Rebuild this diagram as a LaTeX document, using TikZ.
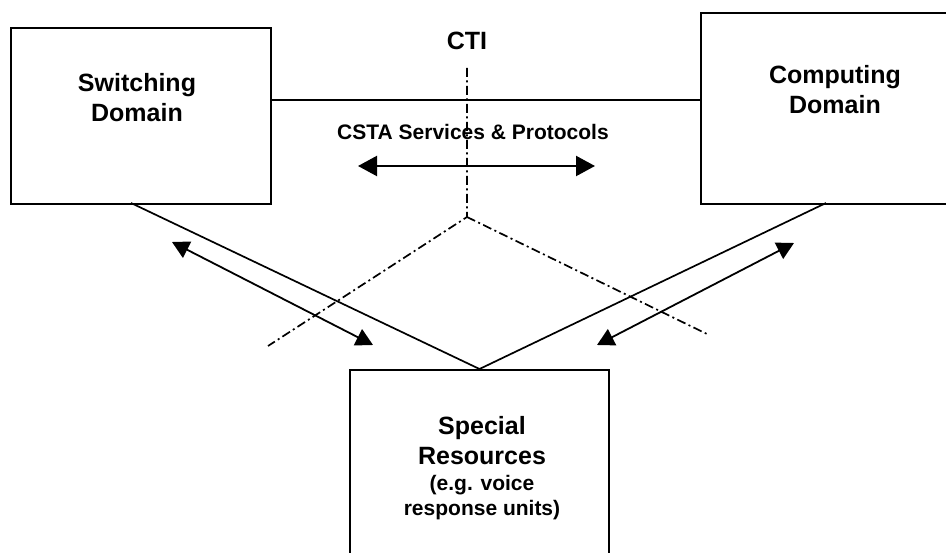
\documentclass[tikz,border=0pt]{standalone}
\usepackage{fontspec}
\setmainfont{Liberation Sans}
\usetikzlibrary{arrows.meta}
\begin{document}
\begin{tikzpicture}[x=1pt,y=-1pt,
  box/.style={draw, line width=2pt, inner sep=0pt},
  big/.style={font=\bfseries\fontsize{25}{30}\selectfont, align=center, inner sep=0pt},
  mid/.style={font=\bfseries\fontsize{21}{25}\selectfont, inner sep=0pt},
  conn/.style={line width=1.7pt},
  dd/.style={line width=1.7pt, dash pattern=on 9pt off 3.5pt on 2pt off 3.5pt},
  dbl/.style={line width=1.8pt, {Triangle[length=17pt,width=18pt]}-{Triangle[length=17pt,width=18pt]}},
  hdbl/.style={line width=2.2pt, {Triangle[length=19pt,width=20pt]}-{Triangle[length=19pt,width=20pt]}}]
\useasboundingbox (0,0) rectangle (946,553);
% boxes
\node[box, minimum width=260pt, minimum height=176pt, anchor=north west] (sw) at (10,27) {};
\node[box, minimum width=252pt, minimum height=191pt, anchor=north west] (cd) at (700,12) {};
\node[box, minimum width=259pt, minimum height=200pt, anchor=north west] (sr) at (349,369) {};
% texts
\node[big, anchor=north] (swt) at (137,73) {Switching\\Domain};
\node[big, anchor=north] (cdt) at (835,65) {Computing\\Domain};
\node[big, anchor=base] (cti) at (467,50) {CTI};
\node[mid, anchor=base] (csta) at (473,140) {CSTA Services \& Protocols};
\node[big, anchor=north] (srt) at (482,416) {Special\\Resources\\[-4pt]{\fontsize{21}{25}\selectfont (e.g. voice}\\[-5pt]{\fontsize{21}{25}\selectfont response units)}};
% connectors
\coordinate (h) at (0,100);
\draw[conn] (sw.east |- h) -- (cd.west |- h);
\coordinate (swb) at (131,203);
\coordinate (cdb) at (826,203);
\draw[conn] (swb) -- (sr.north) -- (cdb);
% dash-dot boundary
\coordinate (ctitop) at (467,68);
\coordinate (ctic) at (467,217);
\coordinate (ddl) at (268,346);
\coordinate (ddr) at (709,335);
\draw[dd] (ctitop) -- (ctic) -- (ddl);
\draw[dd] (ctic) -- (ddr);
% arrows
\coordinate (ca1) at (358,166);
\coordinate (ca2) at (595,166);
\draw[hdbl] (ca1) -- (ca2);
\coordinate (la1) at (172,242);
\coordinate (la2) at (373,345);
\draw[dbl] (la1) -- (la2);
\coordinate (ra1) at (794,243);
\coordinate (ra2) at (597,345);
\draw[dbl] (ra1) -- (ra2);
\end{tikzpicture}
\end{document}
